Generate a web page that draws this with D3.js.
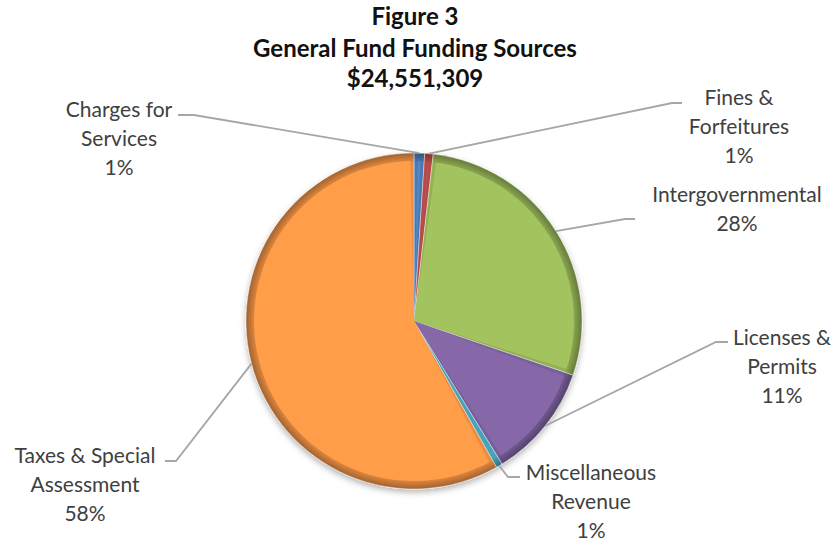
<!DOCTYPE html>
<html>
<head>
<meta charset="utf-8">
<script src="https://cdn.jsdelivr.net/npm/d3@7"></script>
<style>
  body { margin: 0; background: #fff; }
  text { font-family: Lato, "Open Sans", sans-serif; }
</style>
</head>
<body>
<svg id="chart"></svg>
<script>
const TITLE_LINES = ["Figure 3", "General Fund Funding Sources", "$24,551,309"]
const CATEGORIES = [
  "Charges for Services",
  "Fines & Forfeitures",
  "Intergovernmental",
  "Licenses & Permits",
  "Miscellaneous Revenue",
  "Taxes & Special Assessment",
]
const LABEL_LINES = [
  ["Charges for", "Services"],
  ["Fines &", "Forfeitures"],
  ["Intergovernmental"],
  ["Licenses &", "Permits"],
  ["Miscellaneous", "Revenue"],
  ["Taxes & Special", "Assessment"],
]
// dollar amounts (total $24,551,309)
const AMOUNTS = [250000, 200000, 6970000, 2700000, 150000, 14281309]
const COLORS = ["#4F81BD", "#C0504D", "#9BBB59", "#8064A2", "#4BACC6", "#F79646"]

const WIDTH = 834
const HEIGHT = 544
const CX = 414
const CY = 321
const R = 168

// where each label sits: text centre, first baseline, leader start and elbow
const LABEL_LAYOUT = [
  {x: 119, y: 117, lx: 178, ly: 115, ex: 194},
  {x: 739, y: 105, lx: 682, ly: 103, ex: 672},
  {x: 737, y: 202, lx: 635, ly: 219, ex: 625},
  {x: 782, y: 345, lx: 728, ly: 342, ex: 716},
  {x: 591, y: 480, lx: 520, ly: 477, ex: 508},
  {x: 85, y: 463, lx: 165, ly: 461, ex: 176},
]

const data = CATEGORIES.map((name, i) => ({
  name,
  value: AMOUNTS[i],
  color: COLORS[i],
  lines: LABEL_LINES[i],
  layout: LABEL_LAYOUT[i],
}))
const total = d3.sum(AMOUNTS)

const svg = d3.select("#chart").attr("width", WIDTH).attr("height", HEIGHT)
const defs = svg.append("defs")

const shadow = defs.append("filter").attr("id", "shadow")
  .attr("x", "-10%").attr("y", "-10%").attr("width", "120%").attr("height", "125%")
shadow.append("feDropShadow")
  .attr("dx", 0).attr("dy", 3).attr("stdDeviation", 3)
  .attr("flood-color", "#000").attr("flood-opacity", 0.3)

// title
svg.append("g")
  .selectAll("text")
  .data(TITLE_LINES)
  .enter()
  .append("text")
  .attr("x", 415)
  .attr("y", (d, i) => [25, 57, 87][i])
  .attr("text-anchor", "middle")
  .attr("font-size", 24)
  .attr("font-weight", "bold")
  .attr("fill", "#111")
  .text((d) => d)

const pie = d3.pie().sort(null).value((d) => d.value)
const arcs = pie(data)

const outerArc = d3.arc().innerRadius(0).outerRadius(R)
const faceArc = d3.arc().innerRadius(0).outerRadius(R - 8).padAngle(0.045).padRadius(R)

const pieG = svg.append("g").attr("transform", `translate(${CX},${CY})`)

// gradient for the bevelled rim of each slice
arcs.forEach((a, i) => {
  const c = d3.color(a.data.color)
  const g = defs.append("radialGradient")
    .attr("id", "rim" + i)
    .attr("gradientUnits", "userSpaceOnUse")
    .attr("cx", 0).attr("cy", 0).attr("r", R)
  g.append("stop").attr("offset", 0).attr("stop-color", c.darker(0.25))
  g.append("stop").attr("offset", (R - 10) / R).attr("stop-color", c.darker(0.15))
  g.append("stop").attr("offset", 1).attr("stop-color", c.darker(1.2))
})

const base = pieG.append("g").attr("filter", "url(#shadow)")
base.selectAll("path")
  .data(arcs)
  .enter()
  .append("path")
  .attr("d", outerArc)
  .attr("fill", (d, i) => `url(#rim${i})`)
  .attr("stroke", "#fff")
  .attr("stroke-opacity", 0.5)
  .attr("stroke-width", 0.8)

pieG.append("g")
  .selectAll("path")
  .data(arcs)
  .enter()
  .append("path")
  .attr("d", faceArc)
  .attr("fill", (d) => d3.color(d.data.color).brighter(0.12))

// leader lines
const midAngle = (d) => (d.startAngle + d.endAngle) / 2
svg.append("g")
  .selectAll("polyline")
  .data(arcs)
  .enter()
  .append("polyline")
  .attr("points", (d) => {
    const L = d.data.layout
    const a = midAngle(d)
    const px = CX + R * Math.sin(a)
    const py = CY - R * Math.cos(a)
    return `${L.lx},${L.ly} ${L.ex},${L.ly} ${px},${py}`
  })
  .attr("fill", "none")
  .attr("stroke", "#A6A6A6")
  .attr("stroke-width", 1.8)

// labels
const labels = svg.append("g")
  .selectAll("text")
  .data(arcs)
  .enter()
  .append("text")
  .attr("text-anchor", "middle")
  .attr("font-size", 21)
  .attr("fill", "#404040")

labels.each(function (d) {
  const L = d.data.layout
  const pct = Math.round((d.value / total) * 100) + "%"
  const lines = d.data.lines.concat([pct])
  d3.select(this)
    .selectAll("tspan")
    .data(lines)
    .enter()
    .append("tspan")
    .attr("x", L.x)
    .attr("y", (t, j) => L.y + j * 29)
    .text((t) => t)
})
</script>
</body>
</html>
